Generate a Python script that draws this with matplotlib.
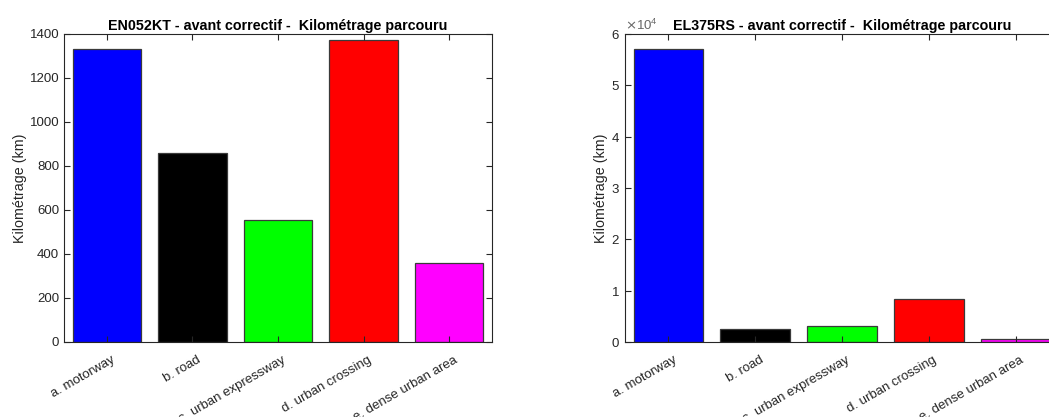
"""Kilométrage parcouru par type de route, deux véhicules (avant correctif)."""

import matplotlib
matplotlib.use("Agg")
import matplotlib.pyplot as plt
import matplotlib.transforms as mtransforms
from matplotlib.ticker import ScalarFormatter

plt.rcParams["font.family"] = ["Liberation Sans", "DejaVu Sans"]

categories = ["a. motorway", "b. road", "c. urban expressway",
              "d. urban crossing", "e. dense urban area"]
colors = ["#0000ff", "#000000", "#00ff00", "#ff0000", "#ff00ff"]

km_en052kt = [1330, 860, 555, 1372, 359]
km_el375rs = [57140, 2600, 3180, 8380, 520]

titles = ["EN052KT - avant correctif -  Kilométrage parcouru",
          "EL375RS - avant correctif -  Kilométrage parcouru"]

GREY = "#262626"


def draw_panel(fig, ax, values, title, ymax, yticks):
    x = range(1, len(values) + 1)
    ax.bar(x, values, 0.8, color=colors, edgecolor="#3a3a3a", linewidth=0.9)
    ax.set_xlim(0.5, len(values) + 0.5)
    ax.set_ylim(0, ymax)
    ax.set_yticks(yticks)
    ax.set_xticks(list(x))
    ax.set_xticklabels(categories, rotation=30, ha="right", rotation_mode="anchor",
                       fontsize=9.3, color=GREY)
    ax.tick_params(direction="in", top=True, right=True, length=4, width=0.8,
                   colors=GREY, labelsize=9.5)
    # nudge rotated labels down/right like the original
    shift = mtransforms.ScaledTranslation(3 / 72, -5 / 72, fig.dpi_scale_trans)
    for lab in ax.get_xticklabels():
        lab.set_transform(lab.get_transform() + shift)
    for s in ax.spines.values():
        s.set_color(GREY)
        s.set_linewidth(0.8)
    ax.set_ylabel("Kilométrage (km)", fontsize=10.3, color=GREY)
    ax.set_title(title, fontsize=10.3, fontweight="bold", pad=3)


fig = plt.figure(figsize=(10.49, 4.17), dpi=100)
ax1 = fig.add_axes([64 / 1049, 1 - 342 / 417, 428 / 1049, 308 / 417])
ax2 = fig.add_axes([625 / 1049, 1 - 342 / 417, 434 / 1049, 308 / 417])

draw_panel(fig, ax1, km_en052kt, titles[0], 1400, range(0, 1401, 200))
draw_panel(fig, ax2, km_el375rs, titles[1], 60000, range(0, 60001, 10000))

fmt = ScalarFormatter(useMathText=True)
fmt.set_powerlimits((0, 0))
ax2.yaxis.set_major_formatter(fmt)
ax2.yaxis.get_offset_text().set_color("#666666")
ax2.yaxis.get_offset_text().set_fontsize(9.5)

ax1.yaxis.set_label_coords(-0.086, 0.5)
ax2.yaxis.set_label_coords(-0.04, 0.5)

fig.savefig("out.png", dpi=100)
plt.close(fig)
